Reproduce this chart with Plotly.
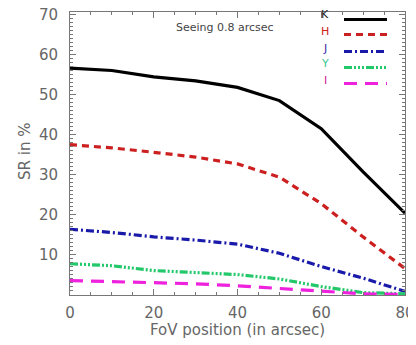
import plotly.graph_objects as go

fov = [0, 10, 20, 30, 40, 50, 60, 70, 80]
sr_K = [56.6, 56.0, 54.4, 53.4, 51.8, 48.5, 41.5, 30.7, 20.4]
sr_H = [37.5, 36.7, 35.6, 34.4, 32.7, 29.4, 22.8, 14.5, 6.6]
sr_J = [16.4, 15.6, 14.5, 13.7, 12.7, 10.4, 7.1, 4.2, 0.9]
sr_Y = [7.8, 7.3, 6.1, 5.6, 5.1, 4.0, 2.1, 0.6, 0.3]
sr_I = [3.6, 3.3, 3.1, 2.8, 2.3, 1.7, 0.9, 0.3, 0.1]

band_names = ["K", "H", "J", "Y", "I"]
band_values = [sr_K, sr_H, sr_J, sr_Y, sr_I]
band_colors = ["#000000", "#cc2020", "#1a1aaa", "#22c86a", "#ee22dd"]
band_dashes = ["solid", "7px,5px", "8px,3px,2px,3px",
               "8px,2px,2px,2px,2px,2px,2px,2px", "13px,8px"]
band_label_colors = ["#222222", "#cc2020", "#3a2aa8", "#33c890", "#cc2090"]

fig = go.Figure()
for name, vals, col, dash in zip(band_names, band_values, band_colors, band_dashes):
    fig.add_trace(go.Scatter(x=fov, y=vals, mode="lines", name=name,
                             line=dict(color=col, width=3.2, dash=dash),
                             showlegend=False))

# target layout in window pixels; page body has an 8px margin
OFF = 8
WIN_W, WIN_H = 416, 345
L, R, T, B = 70, 405, 12, 295
W, H = WIN_W - OFF, WIN_H - OFF

def px(xp):
    return (xp - L) / (R - L)
def py(yp):
    return (B - yp) / (B - T)

FONT = "DejaVu Sans, Verdana, sans-serif"
text_y = [15, 32, 48, 64, 80]
line_y = [19.5, 34.5, 51.5, 67.5, 83.5]
for name, col, dash, lc, ty, ly in zip(band_names, band_colors, band_dashes,
                                        band_label_colors, text_y, line_y):
    fig.add_annotation(x=px(325), y=py(ty), xref="paper", yref="paper",
                       text=name, showarrow=False,
                       font=dict(size=11, color=lc, family=FONT),
                       xanchor="center", yanchor="middle")
    fig.add_shape(type="line", xref="paper", yref="paper",
                  x0=px(344), x1=px(387), y0=py(ly), y1=py(ly),
                  line=dict(color=col, width=3.2, dash=dash))

fig.add_annotation(x=px(225), y=py(28), xref="paper", yref="paper",
                   text="Seeing 0.8 arcsec", showarrow=False,
                   font=dict(size=11, color="#444444", family=FONT),
                   xanchor="center", yanchor="middle")

axis_font = dict(size=15, color="#666666", family=FONT)

fig.add_annotation(x=px(237), y=py(330), xref="paper", yref="paper",
                   text="FoV position (in arcsec)", showarrow=False,
                   font=axis_font, xanchor="center", yanchor="middle")
fig.add_annotation(x=px(25), y=py(152), xref="paper", yref="paper",
                   text="SR in %", showarrow=False, textangle=-90,
                   font=axis_font, xanchor="center", yanchor="middle")

fig.update_layout(
    width=W, height=H,
    margin=dict(l=L - OFF, r=WIN_W - R, t=T - OFF, b=WIN_H - B, pad=0),
    plot_bgcolor="white", paper_bgcolor="white",
    xaxis=dict(range=[0, 80], tickvals=[0, 20, 40, 60, 80], automargin=False,
               showline=True, linecolor="#777777", linewidth=1,
               mirror="allticks", ticks="inside", ticklen=6, tickcolor="#777777",
               minor=dict(ticks="inside", dtick=5, ticklen=3, tickcolor="#777777"),
               showgrid=False, zeroline=False, tickfont=axis_font,
               ticklabelstandoff=4, ticklabeloverflow="allow"),
    yaxis=dict(range=[0, 70.6], tickvals=[10, 20, 30, 40, 50, 60, 70], automargin=False,
               showline=True, linecolor="#777777", linewidth=1,
               mirror="allticks", ticks="inside", ticklen=6, tickcolor="#777777",
               minor=dict(ticks="inside", dtick=1, ticklen=3, tickcolor="#777777"),
               showgrid=False, zeroline=False, tickfont=axis_font,
               ticklabelstandoff=8, ticklabeloverflow="allow"),
)

fig.write_html("out.html")
